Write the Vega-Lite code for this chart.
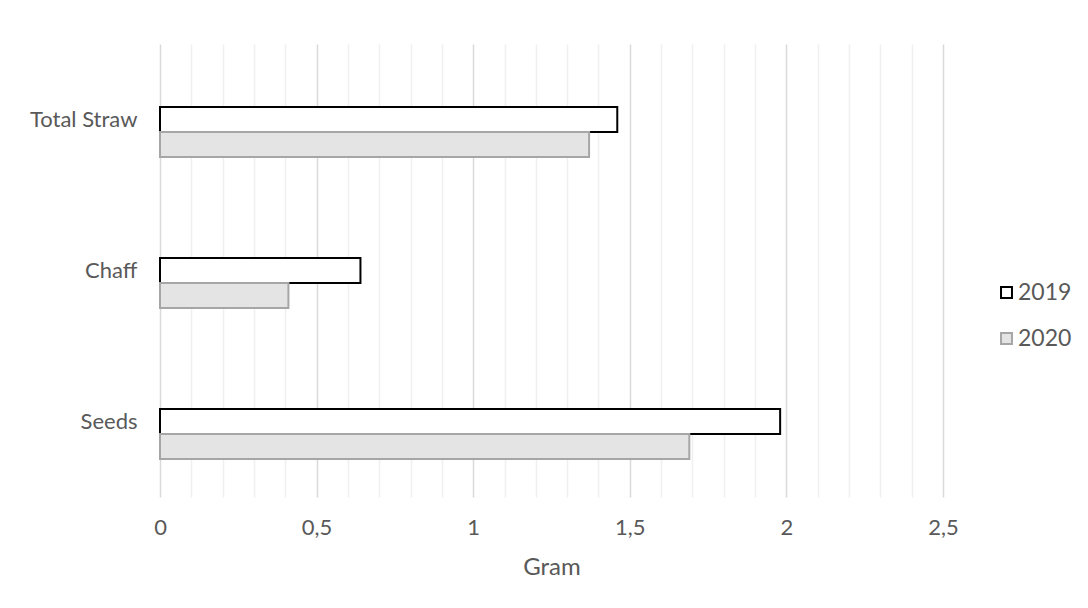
{
  "$schema": "https://vega.github.io/schema/vega-lite/v6.json",
  "width": 783,
  "height": 453,
  "autosize": {"type": "none"},
  "padding": {"left": 160, "top": 44, "right": 145, "bottom": 111},
  "background": "white",
  "config": {
    "view": {"stroke": null},
    "font": "Lato",
    "axis": {"labelFont": "Lato", "titleFont": "Lato"},
    "legend": {"labelFont": "Lato"}
  },
  "data": {
    "values": [
      {"part": "Total Straw", "year": "2019", "gram": 1.46},
      {"part": "Total Straw", "year": "2020", "gram": 1.37},
      {"part": "Chaff", "year": "2019", "gram": 0.64},
      {"part": "Chaff", "year": "2020", "gram": 0.41},
      {"part": "Seeds", "year": "2019", "gram": 1.98},
      {"part": "Seeds", "year": "2020", "gram": 1.69}
    ]
  },
  "mark": {"type": "bar", "strokeWidth": 2},
  "encoding": {
    "y": {
      "field": "part",
      "type": "nominal",
      "sort": ["Total Straw", "Chaff", "Seeds"],
      "scale": {"paddingInner": 0.503, "paddingOuter": 0.2515},
      "axis": {
        "title": null,
        "domain": false,
        "ticks": false,
        "labelPadding": 23,
        "labelFontSize": 22,
        "labelColor": "#595959"
      }
    },
    "yOffset": {
      "field": "year",
      "type": "nominal",
      "scale": {"domain": ["_", "2019", "2020"], "paddingInner": 0, "paddingOuter": 0}
    },
    "x": {
      "field": "gram",
      "type": "quantitative",
      "scale": {"domain": [0, 2.5], "nice": false, "zero": true},
      "axis": {
        "title": "Gram",
        "titleFontSize": 24,
        "titleFontWeight": "normal",
        "titleColor": "#595959",
        "titlePadding": 17,
        "domain": false,
        "ticks": false,
        "values": [0, 0.1, 0.2, 0.3, 0.4, 0.5, 0.6, 0.7, 0.8, 0.9, 1, 1.1, 1.2, 1.3, 1.4, 1.5, 1.6, 1.7, 1.8, 1.9, 2, 2.1, 2.2, 2.3, 2.4, 2.5],
        "labelExpr": "abs(datum.value*2 - round(datum.value*2)) < 0.000001 ? replace(format(datum.value, '~g'), '.', ',') : ''",
        "labelFontSize": 22,
        "labelColor": "#595959",
        "labelPadding": 20,
        "labelFlush": false,
        "labelOverlap": false,
        "grid": true,
        "gridColor": {
          "condition": {"test": "abs(datum.value*2 - round(datum.value*2)) < 0.000001", "value": "#d9d9d9"},
          "value": "#f0f0f0"
        },
        "gridWidth": 1.5
      }
    },
    "fill": {
      "field": "year",
      "type": "nominal",
      "scale": {"domain": ["2019", "2020"], "range": ["#ffffff", "#e4e4e4"]},
      "legend": {
        "title": null,
        "orient": "none",
        "legendX": 835,
        "legendY": 237,
        "padding": 0,
        "symbolType": "square",
        "symbolSize": 120,
        "symbolStrokeWidth": 2,
        "symbolOpacity": 1,
        "labelFontSize": 23,
        "labelColor": "#595959",
        "labelOffset": 0,
        "rowPadding": 22
      }
    },
    "stroke": {
      "field": "year",
      "type": "nominal",
      "scale": {"domain": ["2019", "2020"], "range": ["#000000", "#a6a6a6"]},
      "legend": null
    }
  }
}
